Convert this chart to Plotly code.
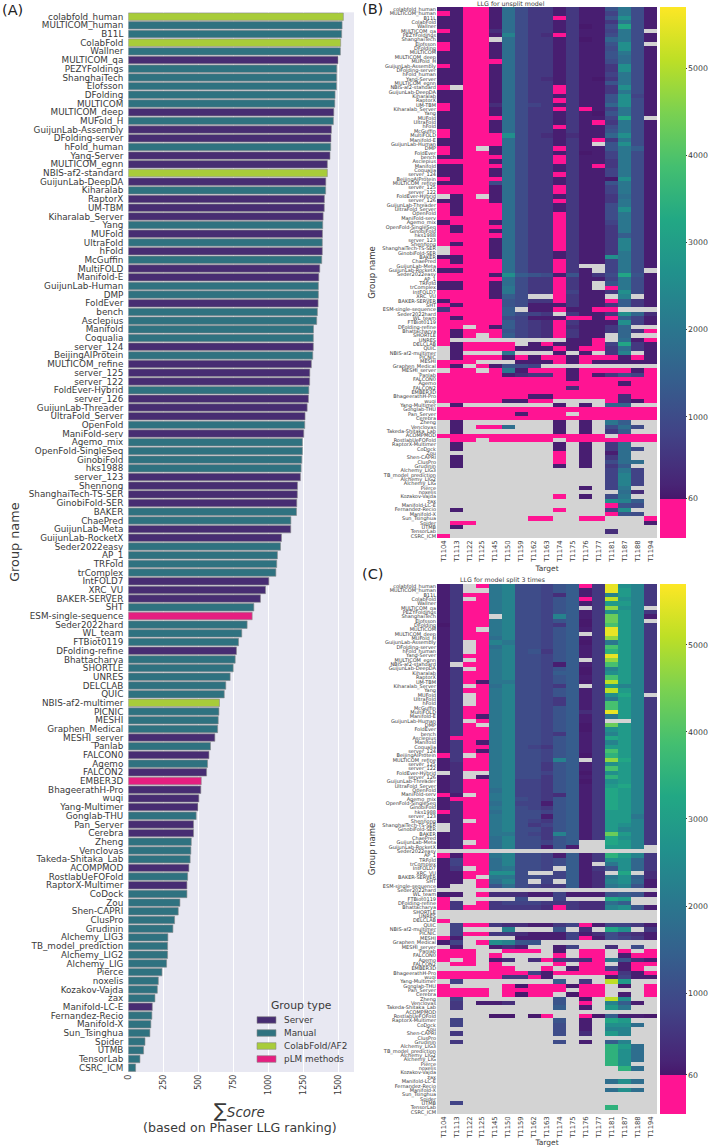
import plotly.graph_objects as go

W, H = 709, 1147
FONT = "DejaVu Sans"
INK = "#3a3a3a"

GROUPS = """colabfold_human MULTICOM_human B11L ColabFold Wallner MULTICOM_qa PEZYFoldings ShanghaiTech Elofsson DFolding
MULTICOM MULTICOM_deep MUFold_H GuijunLab-Assembly DFolding-server hFold_human Yang-Server MULTICOM_egnn NBIS-af2-standard GuijunLab-DeepDA
Kiharalab RaptorX UM-TBM Kiharalab_Server Yang MUFold UltraFold hFold McGuffin MultiFOLD
Manifold-E GuijunLab-Human DMP FoldEver bench Asclepius Manifold Coqualia server_124 BeijingAIProtein
MULTICOM_refine server_125 server_122 FoldEver-Hybrid server_126 GuijunLab-Threader UltraFold_Server OpenFold ManiFold-serv Agemo_mix
OpenFold-SingleSeq GinobiFold hks1988 server_123 Shennong ShanghaiTech-TS-SER GinobiFold-SER BAKER ChaePred GuijunLab-Meta
GuijunLab-RocketX Seder2022easy AP_1 TRFold trComplex IntFOLD7 XRC_VU BAKER-SERVER SHT ESM-single-sequence
Seder2022hard WL_team FTBiot0119 DFolding-refine Bhattacharya SHORTLE UNRES DELCLAB QUIC NBIS-af2-multimer
PICNIC MESHI Graphen_Medical MESHI_server Panlab FALCON0 Agemo FALCON2 EMBER3D BhageerathH-Pro
wuqi Yang-Multimer Gonglab-THU Pan_Server Cerebra Zheng Venclovas Takeda-Shitaka_Lab ACOMPMOD RostlabUeFOFold
RaptorX-Multimer CoDock Zou Shen-CAPRI ClusPro Grudinin Alchemy_LIG3 TB_model_prediction Alchemy_LIG2 Alchemy_LIG
Pierce noxelis Kozakov-Vajda zax Manifold-LC-E Fernandez-Recio Manifold-X Sun_Tsinghua Spider UTMB
TensorLab CSRC_ICM""".split()

SCORES = [1533, 1524, 1521, 1514, 1512, 1495, 1486, 1485, 1484, 1474,
          1472, 1465, 1462, 1448, 1445, 1443, 1438, 1419, 1419, 1408,
          1407, 1398, 1397, 1389, 1386, 1384, 1383, 1383, 1379, 1365,
          1358, 1355, 1355, 1353, 1348, 1343, 1320, 1319, 1319, 1315,
          1305, 1294, 1293, 1287, 1284, 1275, 1260, 1258, 1251, 1241,
          1241, 1237, 1232, 1227, 1206, 1205, 1201, 1199, 1159, 1158,
          1092, 1085, 1063, 1058, 1052, 1002, 978, 942, 895, 883,
          847, 809, 786, 771, 762, 748, 726, 695, 684, 650,
          646, 641, 637, 617, 586, 575, 565, 558, 520, 517,
          503, 496, 484, 465, 465, 449, 446, 441, 432, 423,
          418, 418, 368, 356, 330, 318, 282, 280, 280, 273,
          240, 214, 207, 190, 171, 168, 161, 154, 119, 109,
          83, 52]

# S = Server, M = Manual, C = ColabFold/AF2, P = pLM methods
TYPES = ("CMMCMSMMMM" "MSMSSMSSCS" "MSSSMSMSMS" "SMMSMMMMSM"
         "SSSMSSSMSM" "MMMSSSSMMS" "SMMMMSSSMP" "MMMSMMMMMC"
         "MMMSMSMSPS" "SSMSSMMMSM" "SMMMMMMMMM" "MMMMSMMMMM" "MM")

TYPE_NAMES = {"S": "Server", "M": "Manual", "C": "ColabFold/AF2", "P": "pLM methods"}
TYPE_COLOURS = {"S": "#472d72", "M": "#2f7280", "C": "#a8cc3a", "P": "#e51f80"}

TARGETS = ["T1104", "T1113", "T1122", "T1125", "T1145", "T1150", "T1159", "T1162", "T1163",
           "T1174", "T1175", "T1176", "T1177", "T1181", "T1187", "T1188", "T1194"]

# Estimated LLG level of each heat-map cell; p = below 60, . = no value
LEVELS = {"p": -100, ".": None, "a": 80, "b": 150, "c": 400, "d": 600, "e": 800, "f": 1000,
          "g": 1200, "h": 1400, "i": 1600, "j": 1800, "k": 2000, "l": 2300, "m": 2600,
          "n": 2900, "o": 3200, "q": 3500, "r": 3900, "s": 4300, "t": 4700, "u": 5100, "v": 5500}

UNSPLIT_ROWS = """bbppbjfddbdbbgkfb pbppbjfddbdbbekfb bbppbjfddpdbbgmfb bbppbjfddbdbbdkfb bbppbjfddbdabfofb
pbppcjfddbdbbekf. bbppblfdcpdbbfkfb bbpp.jfddbdabikfb pbppbjfddbdbbgmf. pbppbjfddbdbbfmfb
bbppbjfddbdbbgkfb bbppbjfddbdbbgjfb bbpppjfddbdbbfjfb pbppbjfddbdbbdmfb bbppbjfddbdbbdmfb
bbppbjfddbdbbekfb bbppbjfdcbdbadkfb bbppbjfddbdbbgkfb p.ppbjfddpdbbdmfb bbppbjfddpdbbdkfb
bbppbjfddbdbbgmeb bbppbjfddpdbbgmfb pbppcjfedbdbbimfb pbppbjfddpdpbekfb bbppbjfddbdbagkfb
bbpppjfddbdbbeof. bbppbjfddbdbpdkfb bbppbjfddpdbbfkfb pbppbjfddbdbbgkfb pbpppmfdcbcbbimfb
bbpppjfddbdbpdkfb bbpppjfddbdb.gmfb pbp.bjfddpdbbgkhb pbppbjfddbdabekfb bbpppjfddpdbbekfb
ppppbjfddpdbbdkfb bbpppjfddbdbpdkfb bbppbjfddbdbbekfb bbppbjfddpdbbekfb pbpppjfddbdbbamfb
bbppfjfddbdbbgkfb ppppbjfddpdbbekfb ppppbjfddpdbbekfb .bp.bjfddbdbbdjfb bbppbjfddpdbbdkfb
pbpppjfddbdbbfkfb pbpppjfddbdbbfmfb pbpppjfddpdbbfkfb pppppjfddpdbbfkfb bpppbjfddpdbbekfb
pbpppjfddpdbbdkfb pbppbjfddpdbbdkfb pppppjfddpdbbdhfb ppppbjfddpdbbdlfb pbppbjfddpdbbdlfb
.pppbjfddpdbbdlfb .pppbjfddbdbbdkfb bbppbjfddbdbbmkfb pbpppjfddpdbbekfb pppppjfddpd..ekfb
bbpppjfddpdb.ekf. ppppbmhgfbgbdfogb pppppjfddpdbbekfb bbppbjfddpdb.gkfb bbppbkfddpdb.pkfb
ppppbkfddpebbdmfb ppppbhf..pdbb.l.b bppppgfddpdbbphdb pbpppgfbbbdbbdhdb dpppph.bbpbbpp...
ppppphfed.dbbdmic pbpppfebbbppbpheb ppppphedcpdbbbmeb pp.pbhedcpcbbdi.. pbpppgedcpdbbdidp
pbp.phedcpdbb.i.. p.........bbp.jbp pbpppp.bpbbbpeodb .bppppbbbpbppdjdb .b...k...b.b.dl.b
.bpppbpbppbpppbpb ppp...bbbpbpbbbbb pb.pbgfe......... .pp.pkbpppbppppbp pppppbcddpbpbdgep
ppppppppppbpppppp ppppppppppppppbpp ppppppppppcpppppp ppppppppppppppppp pppppppbbpppppcpp
pppppbbpp....pcap .b.......b.b.ii.. ppppppppppppppppp ppppppbppp.pppppp ppppppppppppppppp
.b.......b.b.kh.. .b.ppj...b.b.fjf. .b.......b.b.dh.. ppppppppppppp.ppp .pp.ppppp.ppppppp
.b.......b.b.dj.. .b.......b.b.djf. .........p.b.bj.. .b.......p.b.dj.. .b.......p.b.fjj.
.b.......b.b.dh.. .............eke. .............ele. .............ele. .............ele.
...........b.ek.. ..............jc. .........p.b.fk.. .............mlh. .............pgf.
.b.......p...em.. .............pgf. .......pp..pp...p .pp.............b .b...............
.............c... p................""".split()

SPLIT_ROWS = """bd.pklffeghpdvmld bd..klffeghbdvnld bdppklffechbdlnld bd.pklffeghpdumld bdppklffeghbdnnld
bdppklffegh.dtml. bdppklffeghbdmnld bdpp.lffelhbdsnlb bdppklffeghadsnl. adppklffedhadrnld
bdp.klffeghbdvnld bdppklffegh.dvnld bdppjlffeghbdtnld bd.plkffeghadknld bd.pjlffeghbdrnld
bd.pklfgdghbdqnld bdppklffeghbdvnld bd.pklffegh.dtnld b.ppklffebhbdrnld bd.pklffeghadlnld
bdppklffehhadmnld bdppklffeghbdrnld bdpbkkffeghadunld bd.pjlffedh.dnlld bdppklffeghbdunld
bd.pklffeghbdmol. bd.pklffedhbdknld bd.pklffedhbdrnld bdppklffeghbdrnld bdppklffeghcdvnld
bdpbklffeghbdknld bd.pklffeghbd..ld bdp.klffeghadsnld bdppklffeghadmnld bdppklffedhbdlnld
bpppklffeghbdonld bdpbklffeghbdlnld bdppklfedghbdnnld bdpbklffeghbdrnld pd.pklffeghadqnld
bdppklffelh.dtold bcppklffdghbdmnld bcppklffdghbdrnld .c..klffeghadmnld bc.bklffdghbdqnld
bcppkleedghadmnld bcppkleedghbdnold bcppjleedghbdonld pb.pkleedchbdonld bpppklfedghbdonld
bcppjleebghbdonld bcppklfedghbdonld pcppjlffeghbdnnld bcppklffbghbdnnkd bc.pklfedghbdnnld
.cppklfdeghbdnmld .cppklffdghbdnlld bcppkkfedlhbdsnld bcppjlffdghbdomld bc.pjlffegh..onld
bcppjlffbgb..nnl. ................. pbppklffebhbdqnld beppjlffefhbdmmid beppjlffefhb.kmid
bd.pjkffe.hbdgmid bbppmmf..ehbc.o.c bbp.kkffeehbckmhc bb.pjlf.e.hbclmib b..pgjfeddhbcklgb
................. bb.pcccbbebbbghgb p.....f..e...on.. pd.pdeeedddccjh.. pdppddddcpdcclmgb
................. ................. p................ .eppdccbbdepbeedb .e...l...g.c.om.d
.eppddcbbbebcfdcb pb....bbbbepbfedb be.pmlgg......... .b..bcb..be..c.f. ppp..ppp.b.pp.p.p
ppp.p....p.pp.bpp p.p.bc.cpddcpkgcb .pp.p....p.pp.bpp ....pp..p.bppebp. pppppppebpppppdbp
pppppddpb....bebb .e.......h.d.un.. p....papppapp.a.p pppp.ppppp.pp...p pppp.papp.app.b.p
.e.......g.a.um.. .d.bbc...g.p.lhb. .d.......h.b.nk.. ................. ....aa.ap..pahbba
.e.......g.b.on.. .e.......f.b.mmj. .........f.b.ll.. .d.......f.c.nl.. .................
.d.......f.b.hl.. .............qnj. .............qmj. .............qmj. .............qmj.
.............qm.. ..............qj. ................. ................. .............jmj.
................. .............jmj. ................. ................. .e...............
.............q... .................""".split()

assert len(GROUPS) == len(SCORES) == len(TYPES) == len(UNSPLIT_ROWS) == len(SPLIT_ROWS) == 122
for row in UNSPLIT_ROWS + SPLIT_ROWS:
    assert len(row) == 17, row


def fx(px):
    return px / W


def fy(px):
    return 1 - px / H


def decode(rows):
    return [[LEVELS[ch] for ch in row] for row in rows]


# Viridis spans the whole value range; everything below the cut-off is overprinted pink
ZMIN, ZMAX, CUT = -390, 5700, 60
cut = (CUT - ZMIN) / (ZMAX - ZMIN)
VIRIDIS = [(0.1, "#482475"), (0.2, "#414487"), (0.3, "#355f8d"), (0.4, "#2a788e"), (0.5, "#21918c"),
           (0.6, "#22a884"), (0.7, "#44bf70"), (0.8, "#7ad151"), (0.9, "#bddf26"), (1.0, "#fde725")]
SCALE = [[0, "#ff1493"], [cut, "#ff1493"], [cut, "#47176b"]] + [[t, c] for t, c in VIRIDIS]

fig = go.Figure()

# Panel A
for key, label in TYPE_NAMES.items():
    idx = [i for i, t in enumerate(TYPES) if t == key]
    fig.add_trace(go.Bar(
        x=[SCORES[i] for i in idx], y=[GROUPS[i] for i in idx], orientation="h",
        name=label, showlegend=False,
        marker=dict(color=TYPE_COLOURS[key], line=dict(color="#8a8a8a", width=0.6)),
        xaxis="x", yaxis="y"))

# Panels B and C
for rows, xa, ya, top, bottom in ((UNSPLIT_ROWS, "x2", "y2", 7, 538), (SPLIT_ROWS, "x3", "y3", 584, 1114)):
    fig.add_trace(go.Heatmap(
        z=decode(rows), x=TARGETS, y=GROUPS, xaxis=xa, yaxis=ya, colorscale=SCALE,
        zmin=ZMIN, zmax=ZMAX, hoverongaps=False, xgap=0, ygap=0,
        colorbar=dict(
            x=fx(660), xanchor="left", xpad=0, y=fy(top), yanchor="top", ypad=0,
            len=(bottom - top) / H, lenmode="fraction", thickness=26, thicknessmode="pixels",
            outlinewidth=0, tickmode="array", tickvals=[60, 1000, 2000, 3000, 4000, 5000],
            ticks="outside", ticklen=1, tickcolor=INK, tickfont=dict(size=7.8, color=INK, family=FONT))))

heat_x = dict(type="category", categoryorder="array", categoryarray=TARGETS, tickangle=-90,
              tickfont=dict(size=6.8, color=INK, family=FONT), ticks="", showgrid=False, zeroline=False,
              domain=[fx(437), fx(657)], title=dict(text="Target", font=dict(size=7.5, color=INK, family=FONT), standoff=3))
heat_y = dict(type="category", categoryorder="array", categoryarray=GROUPS, range=[121.5, -0.5],
              tickmode="array", tickvals=GROUPS, ticktext=GROUPS,
              tickfont=dict(size=5, color=INK, family=FONT), ticks="", showgrid=False, zeroline=False,
              title=dict(text="Group name", font=dict(size=8.5, color=INK, family=FONT), standoff=5))

annotations = [
    dict(text="(A)", x=fx(0), y=fy(10), xanchor="left", font=dict(size=14.5, color="#222")),
    dict(text="(B)", x=fx(360), y=fy(9), xanchor="left", font=dict(size=14.5, color="#222")),
    dict(text="(C)", x=fx(360), y=fy(574), xanchor="left", font=dict(size=14.5, color="#222")),
    dict(text="LLG for unsplit model", x=fx(547), y=fy(3.5), font=dict(size=6.3, color=INK)),
    dict(text="LLG for model split 3 times", x=fx(547), y=fy(579.5), font=dict(size=6.3, color=INK)),
    dict(text='<span style="font-size:19px">∑</span><i>Score</i>', x=fx(240), y=fy(1110),
         font=dict(size=13.5, color=INK)),
    dict(text="(based on Phaser LLG ranking)", x=fx(240), y=fy(1127), font=dict(size=12.6, color=INK)),
    dict(text="Group type", x=fx(301.5), y=fy(1005), font=dict(size=10.8, color=INK)),
]

# Legend key: swatch row positions match the reference's inset key
KEY_ROWS = [(1020, "S"), (1033, "M"), (1046, "C"), (1059, "P")]
shapes = []
for y_px, key in KEY_ROWS:
    shapes.append(dict(type="rect", xref="paper", yref="paper", x0=fx(257), x1=fx(276),
                       y0=fy(y_px + 3.3), y1=fy(y_px - 3.3), fillcolor=TYPE_COLOURS[key],
                       line=dict(color="#8a8a8a", width=0.6)))
    annotations.append(dict(text=TYPE_NAMES[key], x=fx(282), y=fy(y_px), xanchor="left",
                            font=dict(size=8.9, color=INK)))

for a in annotations:
    a.update(xref="paper", yref="paper", showarrow=False, yanchor="middle")
    a["font"]["family"] = FONT

# Grey shows through where a heat-map has no value
for top, bottom in ((7, 538), (584, 1114)):
    shapes.append(dict(type="rect", xref="paper", yref="paper", x0=fx(437), x1=fx(657), y0=fy(bottom), y1=fy(top),
                       fillcolor="#d3d3d3", line_width=0, layer="below"))

fig.update_layout(
    width=W, height=H, margin=dict(l=0, r=0, t=0, b=0, autoexpand=False),
    paper_bgcolor="white", plot_bgcolor="#e8e8f2", barmode="overlay", bargap=0.14,
    font=dict(family=FONT, color=INK), showlegend=False,
    xaxis=dict(domain=[fx(128.3), fx(354)], range=[0, 1609], tickvals=[0, 250, 500, 750, 1000, 1250, 1500],
               tickangle=-90, tickfont=dict(size=8, color=INK, family=FONT), gridcolor="white", gridwidth=1,
               showgrid=True, zeroline=False, ticks="", anchor="y"),
    yaxis=dict(domain=[fy(1072), fy(12.3)], type="category", categoryorder="array", categoryarray=GROUPS,
               range=[121.5, -0.5], tickmode="array", tickvals=GROUPS, ticktext=GROUPS, ticklabelstandoff=4,
               tickfont=dict(size=8.8, color=INK, family=FONT), showgrid=False, zeroline=False, ticks="",
               anchor="x", title=dict(text="Group name", font=dict(size=12.8, color=INK, family=FONT), standoff=6)),
    xaxis2=dict(anchor="y2", **heat_x),
    yaxis2=dict(anchor="x2", domain=[fy(538), fy(7)], **heat_y),
    xaxis3=dict(anchor="y3", **heat_x),
    yaxis3=dict(anchor="x3", domain=[fy(1114), fy(584)], **heat_y),
    annotations=annotations,
    shapes=shapes,
)

fig.write_html("out.html", post_script="document.body.style.margin='0';", config={"displayModeBar": False})
